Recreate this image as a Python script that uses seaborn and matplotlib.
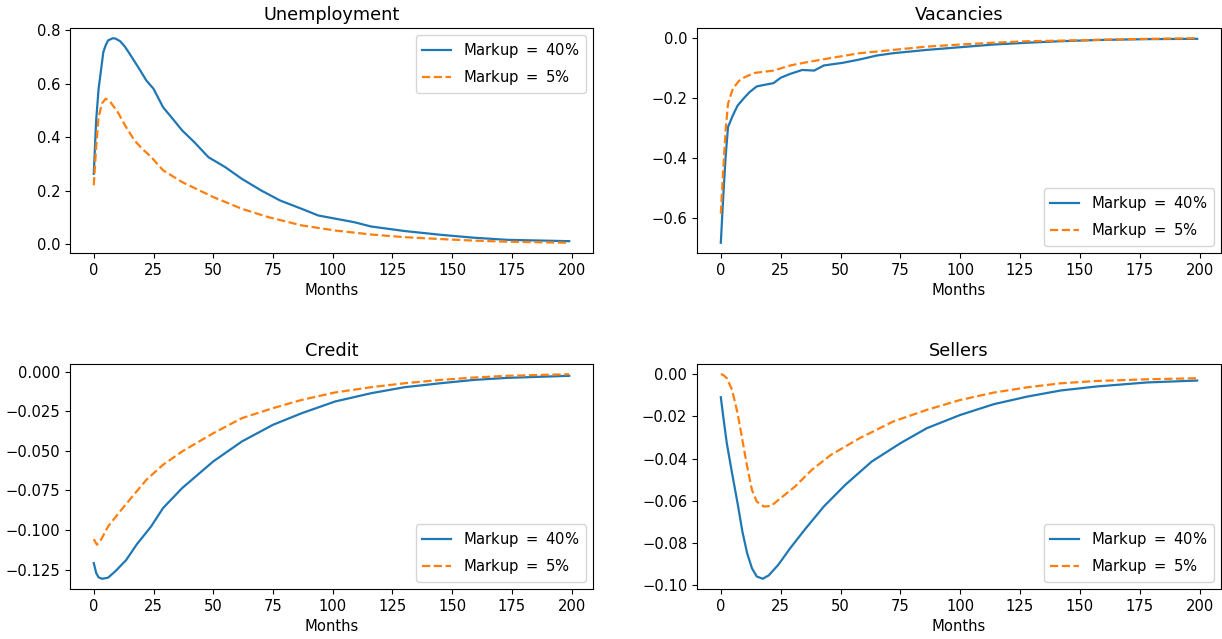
import matplotlib
matplotlib.use("Agg")
import matplotlib.pyplot as plt
from matplotlib.ticker import MultipleLocator
import seaborn as sns

# --- valores (mes, valor) ---
unemp_m_40 = [0, 1, 2, 3, 4, 5, 6, 8, 9, 11, 13, 15, 19, 22, 25, 29, 33, 37, 42, 48, 55, 62, 70, 78, 87, 94, 109, 116, 130,
              145, 159, 173, 199]
unemp_v_40 = [0.264, 0.464, 0.580, 0.650, 0.719, 0.745, 0.763, 0.771, 0.770, 0.760, 0.740, 0.713, 0.657, 0.613, 0.582,
              0.513, 0.470, 0.426, 0.383, 0.326, 0.289, 0.245, 0.202, 0.164, 0.133, 0.108, 0.083, 0.067, 0.050, 0.036,
              0.025, 0.017, 0.012]
unemp_m_5 = [0, 1, 2, 3.5, 5, 7, 10, 13.5, 17, 20, 24, 29, 37, 50, 62, 73, 87, 101, 116, 130, 145, 159, 173, 199]
unemp_v_5 = [0.221, 0.364, 0.476, 0.528, 0.545, 0.532, 0.495, 0.439, 0.389, 0.360, 0.327, 0.277, 0.233, 0.177, 0.133,
             0.102, 0.071, 0.052, 0.037, 0.027, 0.020, 0.014, 0.010, 0.006]

vac_m_40 = [0, 1, 2, 3, 5, 7, 10, 12, 15, 18, 22, 25, 29, 34, 39, 43, 51, 58, 65, 72, 86, 100, 114, 128, 142, 157, 178, 199]
vac_v_40 = [-0.684, -0.531, -0.398, -0.298, -0.259, -0.226, -0.198, -0.181, -0.162, -0.157, -0.151, -0.133, -0.120, -0.107,
            -0.109, -0.092, -0.083, -0.072, -0.059, -0.051, -0.040, -0.031, -0.022, -0.016, -0.011, -0.007, -0.004, -0.003]
vac_m_5 = [0, 1, 2, 3, 5, 7.5, 10, 14, 22, 29, 36, 46, 58, 72, 86, 100, 114, 128, 142, 171, 199]
vac_v_5 = [-0.587, -0.442, -0.309, -0.220, -0.170, -0.144, -0.131, -0.117, -0.109, -0.092, -0.081, -0.067, -0.051, -0.040,
           -0.029, -0.022, -0.016, -0.011, -0.009, -0.004, -0.001]

cred_m_40 = [0, 1, 2, 3.5, 6, 9, 13.5, 18, 24, 29, 37, 50, 62, 75, 87, 101, 116, 130, 145, 159, 173, 199]
cred_v_40 = [-0.1208, -0.127, -0.1298, -0.1307, -0.130, -0.126, -0.119, -0.109, -0.0977, -0.0861, -0.0735, -0.0567,
             -0.0441, -0.0336, -0.0263, -0.0189, -0.0137, -0.0099, -0.0074, -0.0053, -0.0040, -0.0027]
cred_m_5 = [0, 1.3, 2.7, 6, 11, 15, 22, 29, 37, 50, 62, 75, 87, 101, 116, 130, 145, 159, 173, 199]
cred_v_5 = [-0.1057, -0.1092, -0.107, -0.0977, -0.0882, -0.0809, -0.0683, -0.0588, -0.0504, -0.0389, -0.0294, -0.0231,
            -0.0179, -0.0132, -0.0099, -0.0074, -0.0053, -0.0038, -0.0027, -0.0017]

sell_m_40 = [0, 1, 2.5, 4.7, 7, 9, 11, 13, 15, 17.5, 20, 24, 29, 35, 43, 52, 63, 75, 86, 100, 114, 128, 142, 157, 178, 199]
sell_v_40 = [-0.0109, -0.020, -0.0327, -0.0469, -0.0611, -0.0745, -0.0848, -0.0919, -0.0958, -0.0969, -0.0953, -0.0903,
             -0.0824, -0.0737, -0.0627, -0.0524, -0.0414, -0.0327, -0.0256, -0.0193, -0.0142, -0.0106, -0.0077, -0.0058,
             -0.0039, -0.0030]
sell_m_5 = [0, 1, 2.5, 4.7, 7, 9, 11, 13, 15, 18, 21, 25, 31, 38, 46, 58, 72, 86, 100, 114, 128, 142, 157, 178, 199]
sell_v_5 = [0.0, -0.0003, -0.0019, -0.0074, -0.0185, -0.0311, -0.0437, -0.0548, -0.0603, -0.0627, -0.0624, -0.0587,
            -0.0532, -0.0453, -0.0382, -0.0303, -0.0224, -0.0169, -0.0122, -0.0087, -0.0062, -0.0043, -0.0032,
            -0.0024, -0.0019]

titulos = ["Unemployment", "Vacancies", "Credit", "Sellers"]
series = [
    (unemp_m_40, unemp_v_40, unemp_m_5, unemp_v_5),
    (vac_m_40, vac_v_40, vac_m_5, vac_v_5),
    (cred_m_40, cred_v_40, cred_m_5, cred_v_5),
    (sell_m_40, sell_v_40, sell_m_5, sell_v_5),
]
paso_y = [0.2, 0.2, 0.025, 0.02]
ubicacion_leyenda = ["upper right", "lower right", "lower right", "lower right"]

# posiciones de los ejes en pixeles (izq, der, arriba, abajo)
W, H = 1222, 639
cajas = [(70, 593, 28, 253), (697, 1221, 28, 253), (70, 593, 364, 589), (697, 1221, 364, 589)]

escala = 1.065
plt.rcParams["font.size"] = 10 * escala

fig = plt.figure(figsize=(W / 100, H / 100), dpi=100)

for i in range(4):
    x0, x1, y0, y1 = cajas[i]
    ax = fig.add_axes([x0 / W, 1 - y1 / H, (x1 - x0) / W, (y1 - y0) / H])
    m40, v40, m5, v5 = series[i]
    sns.lineplot(x=m40, y=v40, ax=ax, color="#1f77b4", linewidth=1.5 * escala, label="Markup $=$ 40%")
    sns.lineplot(x=m5, y=v5, ax=ax, color="#ff7f0e", linewidth=1.5 * escala, linestyle="--", label="Markup $=$ 5%")
    ax.set_title(titulos[i], fontsize=12 * escala)
    ax.set_xlabel("Months")
    ax.set_xticks([0, 25, 50, 75, 100, 125, 150, 175, 200])
    ax.yaxis.set_major_locator(MultipleLocator(paso_y[i]))
    ax.legend(loc=ubicacion_leyenda[i], fontsize=10 * escala)

plt.savefig("out.png", dpi=100)
